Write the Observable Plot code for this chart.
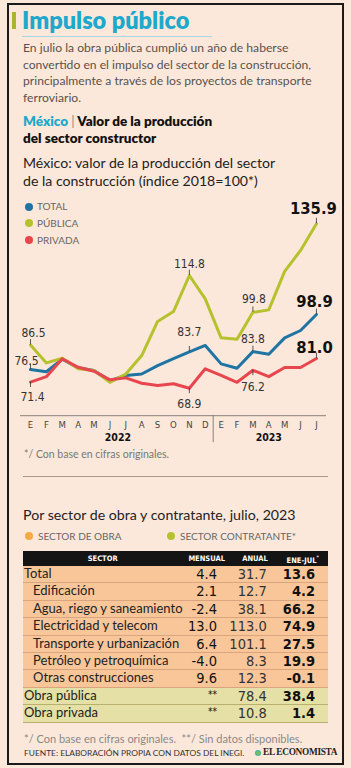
<!DOCTYPE html>
<html><head><meta charset="utf-8">
<script src="https://cdn.jsdelivr.net/npm/d3@7"></script>
<script src="https://cdn.jsdelivr.net/npm/@observablehq/plot@0.6"></script>
<style>
html,body{margin:0;padding:0;}
body{background:#fce8da;width:351px;height:768px;position:relative;overflow:hidden;font-family:Lato,"Open Sans",sans-serif;}
.a{position:absolute;white-space:nowrap;line-height:1.2;}
.frame{position:absolute;left:7px;top:3px;width:333px;height:758px;border:2px solid #1a1a1a;}
.dot{position:absolute;border-radius:50%;}
.narrow{font-family:"Liberation Sans Narrow","DejaVu Sans Condensed","Arial Narrow",sans-serif;}
</style></head><body>
<div class="frame"></div>
<div id="root"></div>
<div id="chart" style="position:absolute;left:0;top:190px;"></div>
<div id="tabla" style="position:absolute;left:23px;top:551px;width:305px;"></div>
<script>
// ---------- data ----------
const meses = ["E","F","M","A","M","J","J","A","S","O","N","D","E","F","M","A","M","J","J"];
const anios = ["2022","2023"];
const inicioAnio = [0, 12];
const series = ["TOTAL","PÚBLICA","PRIVADA"];
const total   = [76.5,75.6,80.7,77.2,76.1,72.0,74.1,74.7,78.1,80.9,83.7,86.3,78.8,77.0,83.8,82.7,89.4,92.4,98.9];
const publica = [86.5,79.2,81.1,76.8,76.1,71.3,74.7,82.2,96.1,100.1,114.8,105.3,89.4,88.8,99.8,100.8,116.5,125.0,135.9];
const privada = [71.4,73.6,80.9,77.4,75.8,72.3,73.1,70.9,70.0,70.7,68.9,76.8,74.1,71.3,76.2,73.6,77.3,77.3,81.0];

const sectores = ["Total","Edificación","Agua, riego y saneamiento","Electricidad y telecom","Transporte y urbanización","Petróleo y petroquímica","Otras construcciones","Obra pública","Obra privada"];
const grupo = ["obra","obra","obra","obra","obra","obra","obra","contratante","contratante"];
const subsector = [false,true,true,true,true,true,true,false,false];
const mensual = ["4.4","2.1","-2.4","13.0","6.4","-4.0","9.6","**","**"];
const anual = [31.7,12.7,38.1,113.0,101.1,8.3,12.3,78.4,10.8];
const eneJul = [13.6,4.2,66.2,74.9,27.5,19.9,-0.1,38.4,1.4];

// ---------- styles ----------
const colores = ["#1f74a3","#b5c22d","#e8464e"];
const NARROW = "'Liberation Sans Narrow','DejaVu Sans Condensed','Arial Narrow',sans-serif";

// ---------- static text ----------
const root = document.getElementById("root");
function put(html, left, cy, fs, css = "") {
  const d = document.createElement("div");
  d.className = "a";
  d.style.cssText = `left:${left}px;top:${cy - 0.64 * fs}px;font-size:${fs}px;${css}`;
  d.innerHTML = html;
  root.appendChild(d);
  return d;
}
function box(left, top, w, h, bg, extra = "") {
  const d = document.createElement("div");
  d.style.cssText = `position:absolute;left:${left}px;top:${top}px;width:${w}px;height:${h}px;background:${bg};${extra}`;
  root.appendChild(d);
}
box(12, 12, 4, 17, "#a9b52c");
put("Impulso público", 22, 21, 23.5, "font-weight:800;color:#1ea9cc;");
box(22, 36, 190, 1, "#a6d8e6");
const desc = ["En julio la obra pública cumplió un año de haberse","convertido en el impulso del sector de la construcción,","principalmente a través de los proyectos de transporte","ferroviario."];
desc.forEach((t, k) => put(t, 23, 49 + k * 16.5, 12.15, "color:#58524d;"));
put('<span style="color:#1ea9cc">México</span> <span style="color:#888;font-weight:400">|</span> Valor de la producción', 23, 122, 13.5, "font-weight:800;color:#111;");
put("del sector constructor", 23, 138.5, 13.5, "font-weight:800;color:#111;");
put("México: valor de la producción del sector", 23, 164.5, 14.1, "color:#222;");
put("de la construcción (índice 2018=100*)", 23, 182.5, 14.1, "color:#222;");
series.forEach((s, k) => {
  const cy = 206.5 + k * 16.8;
  const d = document.createElement("div");
  d.className = "dot";
  d.style.cssText = `left:25px;top:${cy - 4}px;width:8px;height:8px;background:${colores[k]};`;
  root.appendChild(d);
  put(s, 37, cy, 10, "color:#666;");
});
put("*/ Con base en cifras originales.", 24, 455, 10.5, "color:#777;");
box(23, 476, 305, 1, "#a89888");
put("Por sector de obra y contratante, julio, 2023", 23, 515.5, 14.2, "color:#222;");
[["SECTOR DE OBRA", "#f6a844", 29], ["SECTOR CONTRATANTE*", "#b5c22d", 171]].forEach(([t, c, x]) => {
  const d = document.createElement("div");
  d.className = "dot";
  d.style.cssText = `left:${x - 4}px;top:${536 - 4}px;width:8px;height:8px;background:${c};`;
  root.appendChild(d);
  put(t, x + 9, 536, 10, "color:#666;");
});
put("*/ Con base en cifras originales. &nbsp;**/ Sin datos disponibles.", 24, 739, 11, "color:#888;");
put("FUENTE: ELABORACIÓN PROPIA CON DATOS DEL INEGI.", 24, 753, 8.4, "color:#333;");
{
  const d = document.createElement("div");
  d.className = "dot";
  d.style.cssText = `left:255px;top:750px;width:6px;height:6px;background:radial-gradient(circle,#8cc63f,#1ea9cc);`;
  root.appendChild(d);
}
put("EL ECONOMISTA", 263, 753, 9.3, "font-family:'Liberation Serif',serif;font-weight:bold;color:#222;letter-spacing:-0.3px;");

// ---------- line chart ----------
const valores = [total, publica, privada];
const idx = d3.range(meses.length);
const datos = series.flatMap((s, k) => valores[k].map((v, i) => ({serie: s, i, v})));
const notas = [
  {serie: "PÚBLICA", i: 0, dir: -1, dy: -12, dx: 3},
  {serie: "TOTAL", i: 0, dir: -1, dy: -8, dx: -4},
  {serie: "PRIVADA", i: 0, dir: 1, dy: 15, dx: 2},
  {serie: "PÚBLICA", i: 10, dir: -1, dy: -11, dx: 0},
  {serie: "TOTAL", i: 10, dir: -1, dy: -20, dx: 0},
  {serie: "PRIVADA", i: 10, dir: 1, dy: 16, dx: 0},
  {serie: "PÚBLICA", i: 14, dir: -1, dy: -13, dx: 1},
  {serie: "TOTAL", i: 14, dir: -1, dy: -12, dx: 0},
  {serie: "PRIVADA", i: 14, dir: 1, dy: 17, dx: 0},
  {serie: "PÚBLICA", i: 18, dir: -1, dy: -14.5, dx: -3, big: true},
  {serie: "TOTAL", i: 18, dir: -1, dy: -12.5, dx: -2, big: true},
  {serie: "PRIVADA", i: 18, dir: -1, dy: -11, dx: -2, big: true}
].map(n => ({...n, v: valores[series.indexOf(n.serie)][n.i]}));

const yearPos = anios.map((a, k) => {
  const end = k + 1 < inicioAnio.length ? inicioAnio[k + 1] : meses.length;
  return d3.mean(d3.range(inicioAnio[k], end));
});

const chart = Plot.plot({
  width: 351, height: 260,
  marginLeft: 20, marginRight: 26, marginTop: 23.1, marginBottom: 34.8,
  x: {domain: [-0.63, 18.57], label: null},
  y: {domain: [57.7, 140], axis: null, label: null},
  color: {domain: series, range: colores},
  style: {background: "none", fontFamily: NARROW, overflow: "visible"},
  marks: [
    Plot.frame({anchor: "bottom", stroke: "#8a8178"}),
    Plot.axisX({ticks: idx, tickFormat: i => meses[i], tickSize: 0, tickPadding: 6, fontSize: 9.5, fill: "#444", label: null}),
    Plot.axisX({ticks: yearPos, tickFormat: d => anios[yearPos.indexOf(d)], tickSize: 0, tickPadding: 17.5, fontSize: 10.5, fontWeight: "bold", fill: "#111", label: null}),
    Plot.axisX({ticks: [inicioAnio[1] - 0.5], tickFormat: () => "", tickSize: 27, stroke: "#8a8178", label: null}),
    Plot.line(datos, {x: "i", y: "v", z: "serie", stroke: "serie", strokeWidth: 3, strokeLinejoin: "round", strokeLinecap: "round"}),
    Plot.ruleX(notas, {x: "i", y1: "v", y2: d => d.v - d.dir * 2.2, stroke: "#333", strokeWidth: 0.8}),
    ...notas.map(n => Plot.text([n], {
      x: "i", y: "v", text: d => d.v.toFixed(1), dy: n.dy, dx: n.dx, lineAnchor: "middle",
      fontSize: n.big ? 16.5 : 12, fontWeight: n.big ? "bold" : "normal", fill: n.big ? "#111" : "#333"
    }))
  ]
});
document.getElementById("chart").appendChild(chart);

// ---------- table ----------
const tabla = document.getElementById("tabla");
const head = document.createElement("div");
head.style.cssText = "position:relative;height:15px;background:#141414;";
[["SECTOR", 79.7], ["MENSUAL", 183.7], ["ANUAL", 232], ["ENE-JUL<sup style='font-size:5px'>*</sup>", 279.7]].forEach(([t, c]) => {
  const d = document.createElement("div");
  d.className = "a narrow";
  d.style.cssText = `left:${c - 30}px;width:60px;text-align:center;top:3px;font-size:7.5px;font-weight:bold;color:#fff;`;
  d.innerHTML = t;
  head.appendChild(d);
});
tabla.appendChild(head);
const fondo = {obra: "#f9c69a", contratante: "#e5e0a5"};
const linea = {obra: "#d9a47e", contratante: "#b8b070"};
sectores.forEach((s, k) => {
  const r = document.createElement("div");
  r.style.cssText = `position:relative;height:16.4px;background:${fondo[grupo[k]]};border-bottom:1px solid ${linea[grupo[k]]};`;
  const cells = [
    [s, `left:${subsector[k] ? 10 : 1}px;font-size:13px;color:#222;font-family:Lato,sans-serif;top:0px;`],
    [mensual[k], `right:111px;font-size:${mensual[k] === "**" ? 10 : 14.5}px;color:#111;top:${mensual[k] === "**" ? 1 : 0}px;`],
    [anual[k].toFixed(1), `right:61.3px;font-size:14.5px;color:#333;top:0px;`],
    [eneJul[k].toFixed(1), `right:13px;font-size:14.5px;font-weight:bold;color:#111;top:0px;`]
  ];
  cells.forEach(([t, css], j) => {
    const d = document.createElement("div");
    d.className = "a" + (j ? " narrow" : "");
    d.style.cssText = css;
    d.textContent = t;
    r.appendChild(d);
  });
  tabla.appendChild(r);
});
</script>
</body></html>
